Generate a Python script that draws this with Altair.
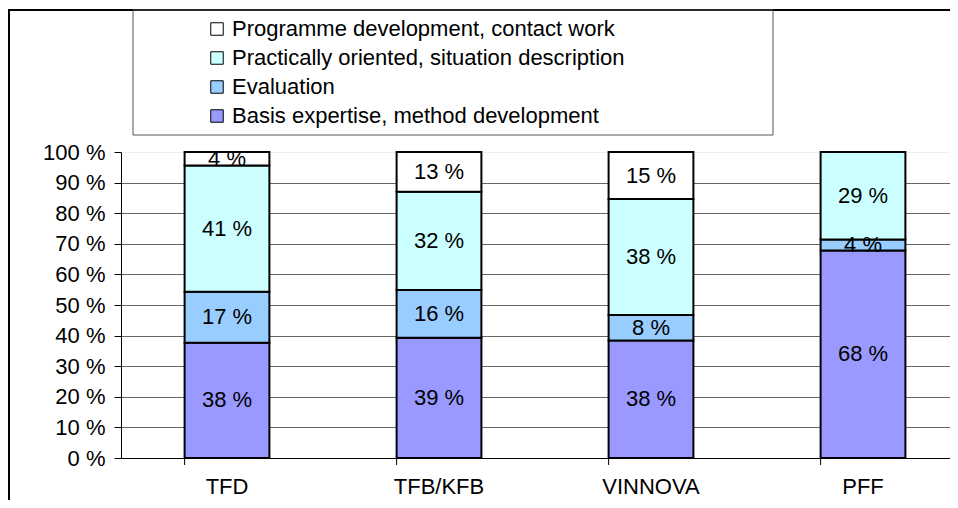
import altair as alt
import pandas as pd

categories = ["TFD", "TFB/KFB", "VINNOVA", "PFF"]
series = [
    "Basis expertise, method development",
    "Evaluation",
    "Practically oriented, situation description",
    "Programme development, contact work",
]
colors = ["#9999FF", "#99CCFF", "#CCFFFF", "#FFFFFF"]
basis = [37.7, 39.3, 38.4, 67.8]
evaluation = [16.6, 15.6, 8.3, 3.6]
practical = [41.3, 32.1, 37.9, 28.6]
programme = [4.4, 13.0, 15.4, 0.0]
y_ticks = [0, 0.1, 0.2, 0.3, 0.4, 0.5, 0.6, 0.7, 0.8, 0.9, 1.0]

rows = []
for s_i, (name, vals) in enumerate(zip(series, [basis, evaluation, practical, programme])):
    for c, v in zip(categories, vals):
        rows.append({"cat": c, "series": name, "value": v, "order": s_i})
df = pd.DataFrame(rows)

FONT = "Liberation Sans"
FS = 22

xscale = alt.Scale(domain=categories, range=[0, 848], paddingInner=0.6, paddingOuter=0.3)
color_scale = alt.Scale(domain=series[::-1], range=colors[::-1])
yscale = alt.Scale(domain=[0, 1], nice=False)

x_axis = alt.Axis(
    labelFont=FONT, labelFontSize=FS, labelColor="black", labelAngle=0,
    ticks=False, labelPadding=18, domainColor="black", domainWidth=1,
)
y_axis = alt.Axis(
    values=y_ticks,
    labelOverlap=False,
    labelExpr="round(datum.value * 100) + ' %'",
    labelFont=FONT, labelFontSize=FS, labelColor="black",
    tickColor="black", tickSize=7, labelPadding=9,
    domainColor="black", domainWidth=1,
    grid=True,
    gridColor=alt.condition("datum.value >= 1", alt.value("#eeeeee"), alt.value("#666666")),
)

base = (
    alt.Chart(df)
    .transform_stack(
        stack="value",
        groupby=["cat"],
        as_=["y0", "y1"],
        offset="normalize",
        sort=[alt.SortField("order", order="ascending")],
    )
    .transform_calculate(mid="(datum.y0 + datum.y1) / 2", label="round(datum.value) + ' %'")
)

bars = base.mark_bar(stroke="black", strokeWidth=2).encode(
    x=alt.X("cat:N", scale=xscale, sort=categories, title=None, axis=x_axis),
    y=alt.Y("y0:Q", scale=yscale, title=None, axis=y_axis),
    y2="y1:Q",
    color=alt.Color(
        "series:N",
        scale=color_scale,
        legend=alt.Legend(
            title=None, orient="none", legendX=85, legendY=-134,
            labelFont=FONT, labelFontSize=FS, labelColor="black",
            symbolType="square", symbolSize=156, symbolStrokeColor="black",
            symbolStrokeWidth=1, rowPadding=7, labelOffset=4, labelLimit=0,
        ),
    ),
)

labels = base.transform_filter("datum.value > 0").mark_text(
    font=FONT, fontSize=FS, color="black", baseline="middle"
).encode(
    x=alt.X("cat:N", scale=xscale, sort=categories, title=None, axis=x_axis),
    y=alt.Y("mid:Q", scale=yscale, title=None, axis=y_axis),
    text="label:N",
)

ticks = alt.Chart(pd.DataFrame({"cat": categories})).mark_rule(color="black", strokeWidth=1).encode(
    x=alt.X("cat:N", scale=xscale, sort=categories, bandPosition=0, title=None, axis=x_axis),
    y=alt.value(306),
    y2=alt.value(313),
)

frame_df = pd.DataFrame({"a": [0]})
outer = alt.Chart(frame_df).mark_rect(fillOpacity=0, stroke="black", strokeWidth=2).encode(
    x=alt.value(-112), x2=alt.value(1200), y=alt.value(-142), y2=alt.value(1000)
)
legend_box = alt.Chart(frame_df).mark_rect(fillOpacity=0, stroke="#555555", strokeWidth=1).encode(
    x=alt.value(12), x2=alt.value(652), y=alt.value(-142), y2=alt.value(-17)
)

chart = (
    alt.layer(outer, legend_box, bars, labels, ticks)
    .properties(
        width=829,
        height=306,
        autosize=alt.AutoSizeParams(type="none"),
        padding={"left": 113, "top": 144, "right": 0, "bottom": 42},
    )
    .configure_view(stroke=None)
)

chart.save("out.html", embed_options={"renderer": "svg", "actions": False})
